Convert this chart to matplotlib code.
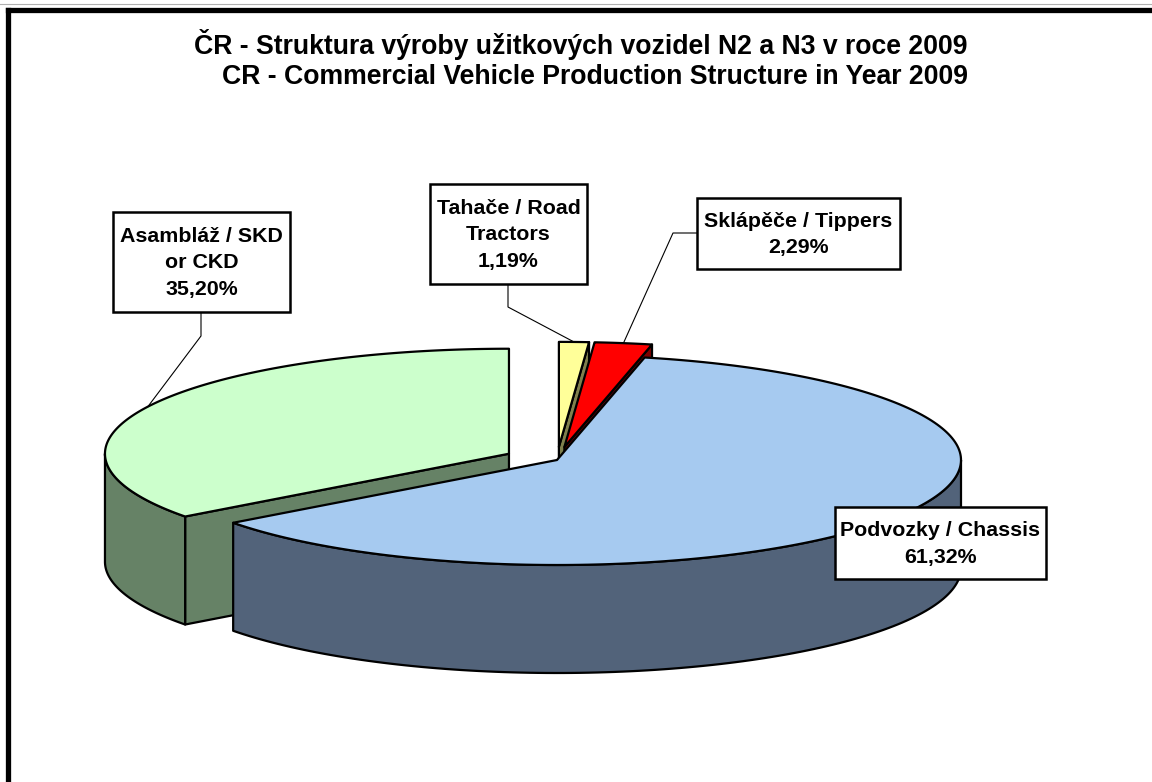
import numpy as np
import matplotlib.pyplot as plt
from matplotlib.patches import Polygon, Rectangle

plt.rcParams['font.family'] = ['Liberation Sans', 'DejaVu Sans']

# data (clockwise from 12 o'clock, as in the original chart)
names = ['Tahače / Road\nTractors', 'Sklápěče / Tippers', 'Podvozky / Chassis', 'Asambláž / SKD\nor CKD']
shares = [1.19, 2.29, 61.32, 35.20]
explode = [0.125, 0.125, 0.0, 0.133]
top_colors = ['#FFFF99', '#FF0000', '#A6CAF0', '#CCFFCC']
side_colors = ['#80804D', '#800000', '#52637A', '#668266']

title1 = 'ČR - Struktura výroby užitkových vozidel N2 a N3 v roce 2009'
title2 = 'CR - Commercial Vehicle Production Structure in Year 2009'

# layout (pixels)
cx, cy = 557, 460
rx, ry, depth = 404, 105, 108
box_pos = [(508.5, 234), (798.5, 233.5), (940.5, 543), (201.5, 262)]
box_size = [(157, 100), (203, 71), (211, 72), (177, 100)]
# elbow of the leader line, None = no leader
elbows = [(508, 307), (673, 233), None, (201, 336)]
box_edge = [(508, 284), (697, 233), None, (201, 312)]

fig = plt.figure(figsize=(11.52, 7.82), dpi=100)
ax = fig.add_axes([0, 0, 1, 1])
ax.set_xlim(0, 1152)
ax.set_ylim(782, 0)
ax.axis('off')


def pt(t, ox, oy, dz=0):
    r = np.radians(t)
    return cx + ox + rx * np.cos(r), cy + oy - ry * np.sin(r) + dz


# angles, math convention (ccw), pie runs clockwise from 90 deg
frac = np.cumsum([0] + shares) / sum(shares)
slices = []
for i in range(len(shares)):
    t2 = 90 - 360 * frac[i]
    t1 = 90 - 360 * frac[i + 1]
    mid = np.radians((t1 + t2) / 2)
    ox = rx * explode[i] * np.cos(mid)
    oy = -ry * explode[i] * np.sin(mid)
    slices.append((t1, t2, ox, oy))

lw = 1.6
# side faces, back slices first
for i in [0, 1, 3, 2]:
    t1, t2, ox, oy = slices[i]
    ax_x, ax_y = cx + ox, cy + oy
    # radial faces
    for t, vis in [(t1, np.cos(np.radians(t1)) > 0.01), (t2, np.cos(np.radians(t2)) < -0.01)]:
        if vis:
            px, py = pt(t, ox, oy)
            face = [(ax_x, ax_y), (px, py), (px, py + depth), (ax_x, ax_y + depth)]
            ax.add_patch(Polygon(face, closed=True, fc=side_colors[i], ec='black', lw=lw, joinstyle='round'))
    # outer wall, front part only
    for k in [-1, 0, 1]:
        a = max(t1, -180 + 360 * k)
        b = min(t2, 0 + 360 * k)
        if b > a:
            ts = np.linspace(a, b, 120)
            upper = [pt(t, ox, oy) for t in ts]
            lower = [pt(t, ox, oy, depth) for t in ts[::-1]]
            ax.add_patch(Polygon(upper + lower, closed=True, fc=side_colors[i], ec='black', lw=lw, joinstyle='round'))

# top faces
for i in range(len(shares)):
    t1, t2, ox, oy = slices[i]
    ts = np.linspace(t1, t2, 200)
    poly = [(cx + ox, cy + oy)] + [pt(t, ox, oy) for t in ts]
    ax.add_patch(Polygon(poly, closed=True, fc=top_colors[i], ec='black', lw=lw, joinstyle='round'))

# labels and leader lines
for i in range(len(shares)):
    t1, t2, ox, oy = slices[i]
    txt = names[i] + '\n' + f'{shares[i]:.2f}%'.replace('.', ',')
    if elbows[i] is not None:
        rim = pt((t1 + t2) / 2, ox, oy)
        xs = [box_edge[i][0], elbows[i][0], rim[0]]
        ys = [box_edge[i][1], elbows[i][1], rim[1]]
        ax.plot(xs, ys, color='black', lw=0.8)
    bx, by = box_pos[i]
    w, h = box_size[i]
    ax.add_patch(Rectangle((bx - w / 2, by - h / 2), w, h, fc='white', ec='black', lw=1.8, zorder=4))
    ax.text(bx, by + 1, txt, ha='center', va='center', multialignment='center',
            fontsize=15.4, fontweight='bold', linespacing=1.5, zorder=5)

ax.text(968, 45, title1, ha='right', va='center', fontsize=19.2, fontweight='bold')
ax.text(968, 77, title2, ha='right', va='center', fontsize=19.2, fontweight='bold')

# chart area border (left and top visible)
ax.plot([7.5, 7.5], [10, 782], color='black', lw=3.8, solid_capstyle='projecting')
ax.plot([7.5, 1152], [10, 10], color='black', lw=3.8, solid_capstyle='projecting')
ax.plot([0, 1152], [3.5, 3.5], color='#B0B0B0', lw=0.8)

fig.savefig('out.png', dpi=100)
